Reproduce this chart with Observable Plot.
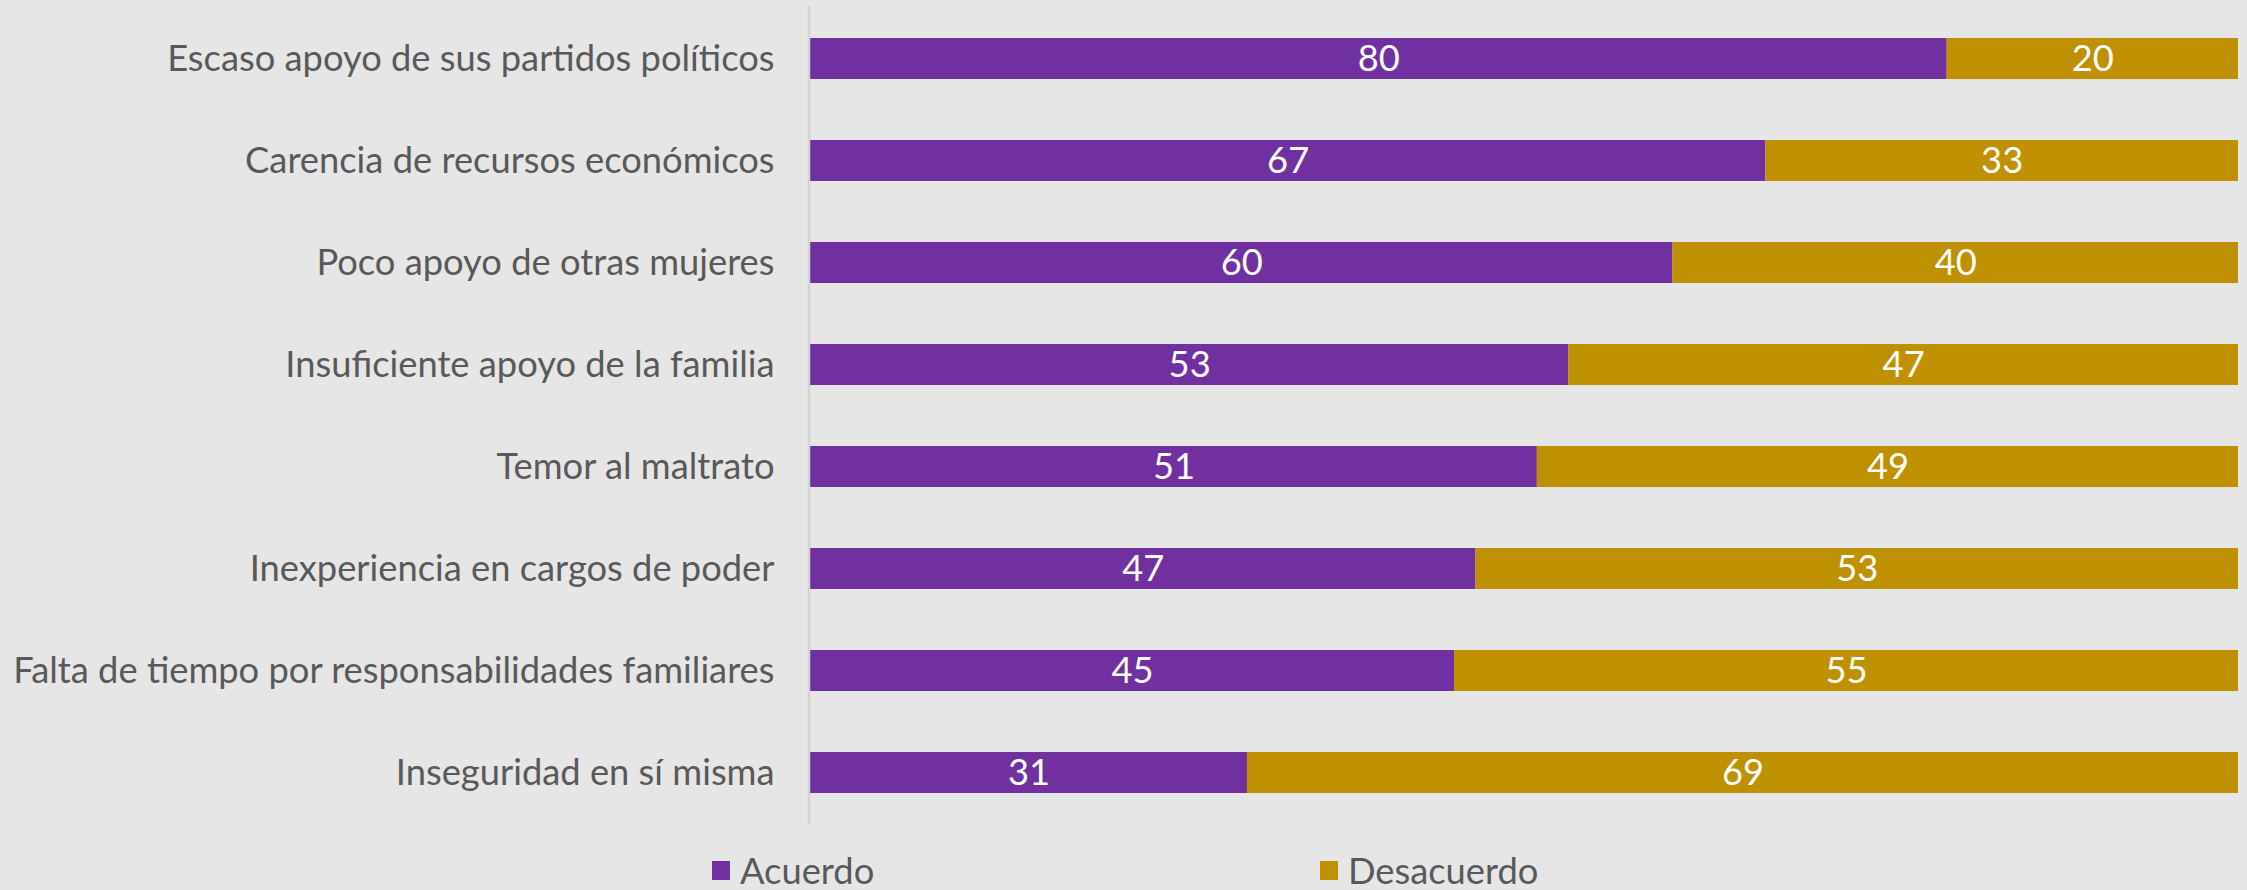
<!DOCTYPE html>
<html>
<head>
<meta charset="utf-8">
<script src="https://cdn.jsdelivr.net/npm/d3@7"></script>
<script src="https://cdn.jsdelivr.net/npm/@observablehq/plot@0.6"></script>
<style>
  html, body { margin: 0; padding: 0; background: #E6E6E6; }
  body { width: 2247px; height: 890px; overflow: hidden; position: relative; font-family: Lato, sans-serif; }
  #chart svg { display: block; }
  .legend { position: absolute; top: 848px; left: 0; width: 2247px; height: 42px; }
  .item { position: absolute; display: flex; align-items: center; color: #595959; white-space: nowrap; }
  .sw { width: 18px; height: 19px; margin-right: 10px; }
</style>
</head>
<body>
<div id="chart"></div>
<div class="legend" id="legend"></div>
<script>
const categories = [
  "Escaso apoyo de sus partidos políticos",
  "Carencia de recursos económicos",
  "Poco apoyo de otras mujeres",
  "Insuficiente apoyo de la familia",
  "Temor al maltrato",
  "Inexperiencia en cargos de poder",
  "Falta de tiempo por responsabilidades familiares",
  "Inseguridad en sí misma"
];
const series = ["Acuerdo", "Desacuerdo"];
const acuerdo    = [79.6, 66.9, 60.4, 53.1, 50.9, 46.6, 45.1, 30.6];
const desacuerdo = [20.4, 33.1, 39.6, 46.9, 49.1, 53.4, 54.9, 69.4];
const colors = ["#7030A0", "#BF9000"];

const data = [];
categories.forEach((c, i) => {
  data.push({cat: c, series: series[0], value: acuerdo[i]});
  data.push({cat: c, series: series[1], value: desacuerdo[i]});
});

// fit font size so the longest label matches the reference width
const ctx = document.createElement("canvas").getContext("2d");
ctx.font = "100px Lato";
const longest = d3.max(categories, c => ctx.measureText(c).width);
const fs = Math.round(100 * 762 / longest * 10) / 10;

const W = 2247, H = 840;
const plot = Plot.plot({
  width: W,
  height: H,
  marginTop: 6,
  marginBottom: 16,
  marginLeft: 810,
  marginRight: 9,
  style: {background: "#E6E6E6", color: "#595959", fontFamily: "Lato, sans-serif"},
  x: {domain: [0, 100], axis: null},
  y: {domain: categories, paddingInner: 0.6, paddingOuter: 0.3, label: null},
  color: {domain: series, range: colors},
  marks: [
    Plot.barX(data, Plot.stackX({y: "cat", x: "value", fill: "series", z: "series", order: series})),
    Plot.textX(data, Plot.stackX({y: "cat", x: "value", z: "series", order: series,
      text: d => String(Math.round(d.value)), fill: "white", fontSize: fs})),
    Plot.ruleX([0], {stroke: "#D4D4D4", strokeWidth: 2.5, dx: -1.5}),
    Plot.axisY({tickSize: 0, tickPadding: 36, fontSize: fs, label: null})
  ]
});
document.getElementById("chart").appendChild(plot);

const legend = document.getElementById("legend");
const lefts = [712, 1320];
series.forEach((s, i) => {
  const it = document.createElement("div");
  it.className = "item";
  it.style.left = lefts[i] + "px";
  it.style.top = "0px";
  it.style.fontSize = fs + "px";
  const sw = document.createElement("div");
  sw.className = "sw";
  sw.style.background = colors[i];
  it.appendChild(sw);
  const t = document.createElement("span");
  t.textContent = s;
  it.appendChild(t);
  legend.appendChild(it);
});
</script>
</body>
</html>
